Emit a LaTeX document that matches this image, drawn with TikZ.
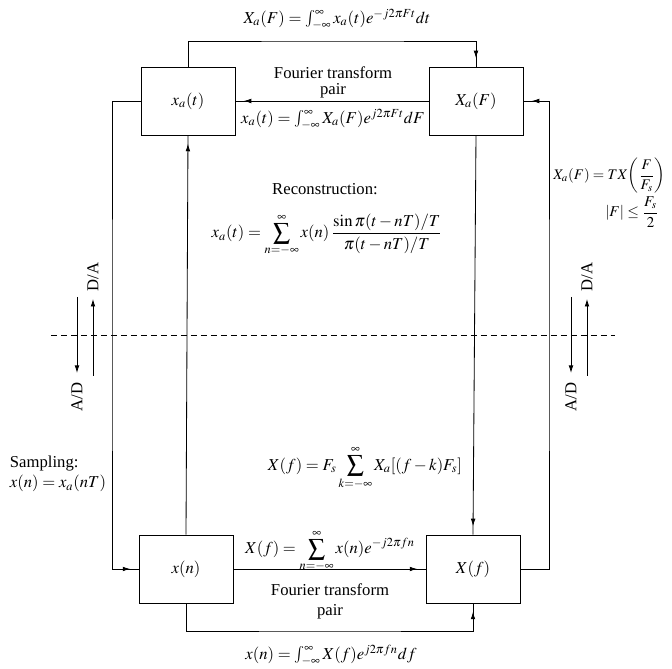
\documentclass[tikz,border=0pt]{standalone}
\usepackage{amsmath,amssymb}
\usepackage{mathptmx}
\usepackage{fontspec}
\setmainfont{Liberation Serif}
\usetikzlibrary{arrows.meta,positioning,calc,decorations.markings}

\begin{document}
\begin{tikzpicture}[x=0.6pt,y=-0.6pt,line width=0.5pt,
    blockbox/.style={draw, minimum width=56.4pt, minimum height=40.8pt, inner sep=0pt},
    tipnear/.style={postaction={decorate},
      decoration={markings, mark=at position -5pt with {\arrow{Latex[length=4.5pt,width=2.8pt]}}}},
    tipend/.style={-{Latex[length=4.5pt,width=2.8pt]}}]
    \useasboundingbox (0,0) rectangle (672,669);
    % Blocks
    \node[blockbox] (xat) at (188,101) {$x_a(t)$};
    \node[blockbox] (XaF) at (476,101) {$X_a(F)$};
    \node[blockbox] (xn) at (186,569) {$x(n)$};
    \node[blockbox] (Xf) at (473,569) {$X(f)$};
    % Turning points
    \coordinate (topl) at (333,41);
    \coordinate (botl) at (330,631);
    \coordinate (lft) at (112,335);
    \coordinate (rgt) at (549,335);
    % Analog transform pair
    \draw[tipnear] (xat.north) |- (topl) -| (XaF.north);
    \draw[tipnear] (XaF.west) -- (xat.east);
    % Discrete transform pair
    \draw[tipnear] (xn.east) -- (Xf.west);
    \draw[tipnear] (xn.south) |- (botl) -| (Xf.south);
    % Sampling and reconstruction
    \draw[tipnear] (xat.west) -| (lft) |- (xn.west);
    \draw[tipnear] (xn.north) -- (xat.south);
    \draw[tipnear] (XaF.south) -- (Xf.north);
    \draw[tipnear] (Xf.east) -| (rgt) |- (XaF.east);
    % Dashed border
    \coordinate (dl) at (51,335);
    \coordinate (dr) at (615,335);
    \draw[dash pattern=on 3.6pt off 2.4pt] (dl) -- (dr);
    % A/D and D/A arrows
    \coordinate (adl1) at (77,297);
    \coordinate (adl2) at (77,373);
    \coordinate (dal1) at (93,376);
    \coordinate (dal2) at (93,299);
    \coordinate (adr1) at (571,297);
    \coordinate (adr2) at (571,373);
    \coordinate (dar1) at (587,376);
    \coordinate (dar2) at (587,299);
    \draw[tipend] (adl1) -- (adl2);
    \draw[tipend] (dal1) -- (dal2);
    \draw[tipend] (adr1) -- (adr2);
    \draw[tipend] (dar1) -- (dar2);
    \node[rotate=90] (dal) at (93,277) {D/A};
    \node[rotate=90] (adl) at (77,397) {A/D};
    \node[rotate=90] (dar) at (587,277) {D/A};
    \node[rotate=90] (adr) at (571,397) {A/D};
    % Labels
    \node[inner sep=1pt] (ftop) at (337,19) {$X_a(F)=\int_{-\infty}^{\infty}x_a(t)e^{-j2\pi Ft}dt$};
    \node[align=center] (pairtop) at (333,82) {Fourier transform\\[-2.4pt]pair};
    \node (finv) at (333,119) {$x_a(t)=\int_{-\infty}^{\infty}X_a(F)e^{j2\pi Ft}dF$};
    \node[inner sep=1pt] (recon) at (325,189) {Reconstruction:};
    \node[inner sep=1pt] (frecon) at (327,235) {$\displaystyle x_a(t)=\sum_{n=-\infty}^{\infty}x(n)\,\frac{\sin\pi(t-nT)/T}{\pi(t-nT)/T}$};
    \node[anchor=west, inner sep=0pt, scale=0.88] (fscale) at (553,176) {$X_a(F)=TX\!\left(\dfrac{F}{F_s}\right)$};
    \node[inner sep=0pt, scale=0.9] (fband) at (632,212) {$|F|\le\dfrac{F_s}{2}$};
    \node[align=left, anchor=west] (samp) at (4,474) {Sampling:\\$x(n)=x_a(nT)$};
    \node[inner sep=1pt] (falias) at (365,468) {$\displaystyle X(f)=F_s\sum_{k=-\infty}^{\infty}X_a[(f-k)F_s]$};
    \node[inner sep=1pt] (fdtft) at (330,551) {$\displaystyle X(f)=\sum_{n=-\infty}^{\infty}x(n)e^{-j2\pi fn}$};
    \node[align=center] (pairbot) at (330,601) {Fourier transform\\pair};
    \node (fidtft) at (331,655) {$x(n)=\int_{-\infty}^{\infty}X(f)e^{j2\pi fn}df$};
\end{tikzpicture}
\end{document}
